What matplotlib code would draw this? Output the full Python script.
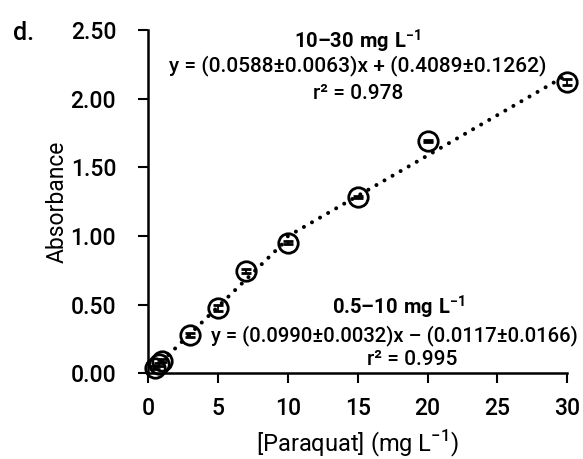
import numpy as np
import matplotlib.pyplot as plt

plt.rcParams['font.family'] = ['Roboto', 'DejaVu Sans']
plt.rcParams['font.weight'] = 'medium'
plt.rcParams['mathtext.fontset'] = 'custom'
plt.rcParams['mathtext.rm'] = 'Roboto:medium'
plt.rcParams['mathtext.bf'] = 'Roboto:bold'

# paraquat concentration (mg/L) and absorbance
conc = [0.5, 0.75, 1.0, 3, 5, 7, 10, 15, 20, 30]
absorb = [0.04, 0.065, 0.09, 0.277, 0.474, 0.743, 0.95, 1.283, 1.69, 2.12]
err = [0.01, 0.01, 0.01, 0.015, 0.02, 0.015, 0.01, 0.01, 0.01, 0.02]

# calibration fits (slope, intercept, range)
low_fit = (0.0990, -0.0117, 0.5, 10)
high_fit = (0.0588, 0.4089, 10, 30)

fig = plt.figure(figsize=(5.83, 4.59), dpi=100)
ax = fig.add_axes([0.254, 0.187, 0.719, 0.748])

for slope, icpt, x0, x1 in (low_fit, high_fit):
    xs = np.array([x0, x1])
    ax.plot(xs, slope * xs + icpt, ls=(0, (0.01, 2.3)), color='black', lw=2.9,
            dash_capstyle='round', zorder=1, clip_on=False)

eb = ax.errorbar(conc, absorb, yerr=err, fmt='o', ms=14, mfc='none', mec='black',
                 mew=2.0, ecolor='black', elinewidth=1.3, capsize=3.5,
                 capthick=1.3, zorder=3)
for art in eb.get_children():
    art.set_clip_on(False)

ax.set_xlim(0, 30)
ax.set_ylim(0, 2.5)
ax.set_xticks([0, 5, 10, 15, 20, 25, 30])
ax.set_yticks([0, 0.5, 1.0, 1.5, 2.0, 2.5])
ax.set_yticklabels(['0.00', '0.50', '1.00', '1.50', '2.00', '2.50'])
ax.spines['top'].set_visible(False)
ax.spines['right'].set_visible(False)
for s in ('left', 'bottom'):
    ax.spines[s].set_linewidth(1.8)
ax.tick_params(width=1.5, length=7, labelsize=16.5)
ax.tick_params(axis='x', pad=10)
ax.tick_params(axis='y', pad=16)

ax.set_xlabel('[Paraquat] (mg L$^{-1}$)', fontsize=17, labelpad=6)
ax.set_ylabel('Absorbance', fontsize=16.5, labelpad=1)

fig.text(0.022, 0.912, 'd.', fontsize=18)

ax.text(0.5, 0.965, r'$\mathbf{10–30\ mg\ L^{-1}}$', transform=ax.transAxes,
        ha='center', va='center', fontsize=14.5)
ax.text(0.5, 0.895, 'y = (0.0588±0.0063)x + (0.4089±0.1262)',
        transform=ax.transAxes, ha='center', va='center', fontsize=15)
ax.text(0.5, 0.815, 'r² = 0.978', transform=ax.transAxes,
        ha='center', va='center', fontsize=15)

ax.text(0.597, 0.192, r'$\mathbf{0.5–10\ mg\ L^{-1}}$', transform=ax.transAxes,
        ha='center', va='center', fontsize=14.5)
ax.text(0.588, 0.111, 'y = (0.0990±0.0032)x – (0.0117±0.0166)',
        transform=ax.transAxes, ha='center', va='center', fontsize=14.6)
ax.text(0.63, 0.04, 'r² = 0.995', transform=ax.transAxes,
        ha='center', va='center', fontsize=15)

fig.savefig('out.png', dpi=100)
